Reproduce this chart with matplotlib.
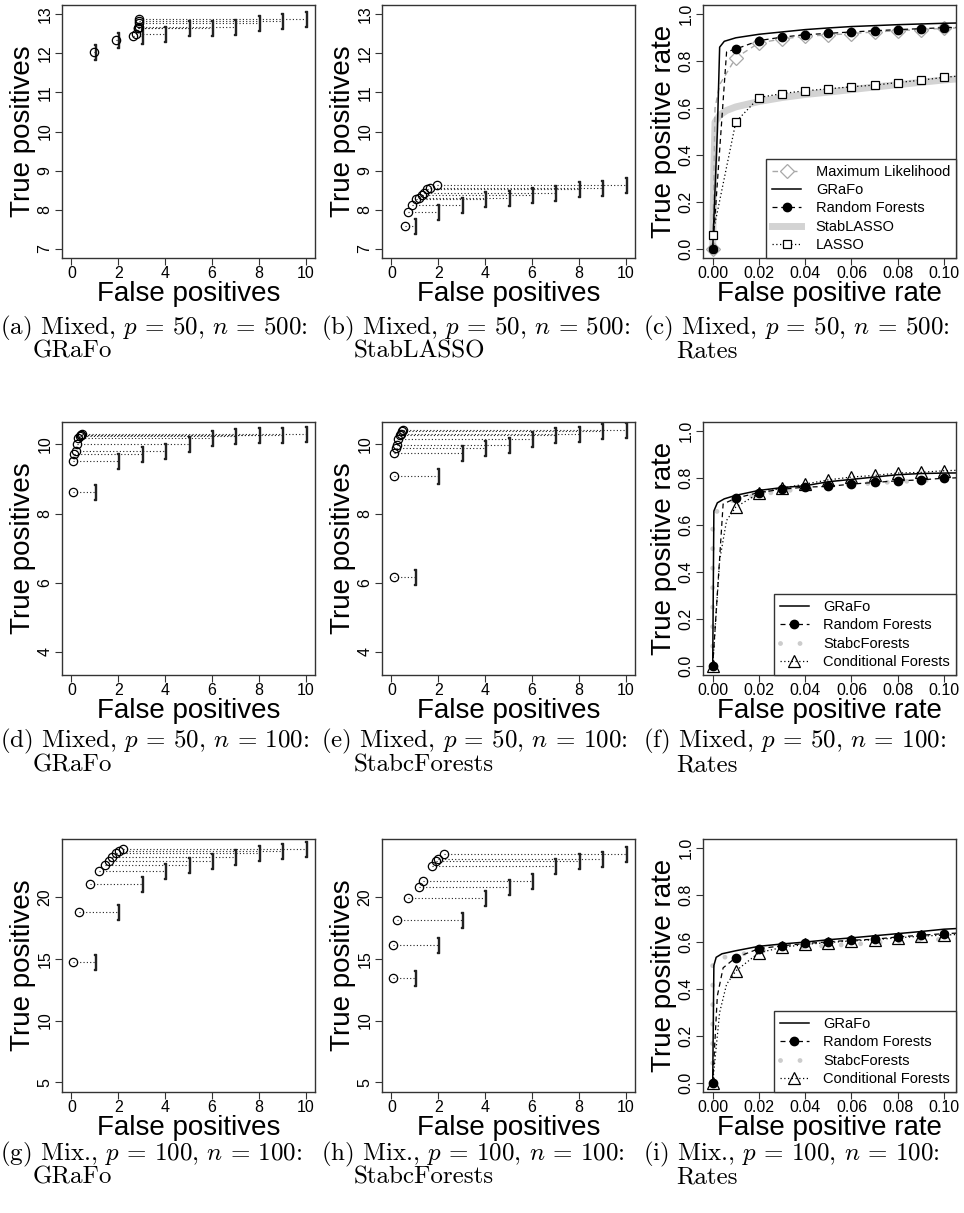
import numpy as np
import matplotlib.pyplot as plt
from matplotlib.ticker import FormatStrFormatter

plt.rcParams['font.family'] = ['Liberation Sans', 'DejaVu Sans']
plt.rcParams['mathtext.fontset'] = 'cm'

# error-control bound on false positives (x position of the "]" marks)
bounds = np.arange(1, 11)

# (a) Mixed p=50 n=500, GRaFo
a_fp = [0.98, 1.92, 2.65, 2.75, 2.83, 2.85, 2.87, 2.9, 2.9, 2.9]
a_tp = [12.03, 12.35, 12.44, 12.51, 12.64, 12.65, 12.68, 12.79, 12.84, 12.88]
# (b) Mixed p=50 n=500, StabLASSO
b_fp = [0.6, 0.7, 0.9, 1.05, 1.2, 1.3, 1.4, 1.5, 1.65, 1.95]
b_tp = [7.57, 7.93, 8.12, 8.28, 8.29, 8.37, 8.42, 8.52, 8.56, 8.63]
# (d) Mixed p=50 n=100, GRaFo
d_fp = [0.05, 0.05, 0.12, 0.18, 0.22, 0.3, 0.35, 0.4, 0.42, 0.45]
d_tp = [8.63, 9.52, 9.72, 9.81, 10.0, 10.2, 10.25, 10.27, 10.28, 10.3]
# (e) Mixed p=50 n=100, StabcForests
e_fp = [0.1, 0.1, 0.13, 0.2, 0.25, 0.3, 0.35, 0.4, 0.45, 0.5]
e_tp = [6.17, 9.09, 9.74, 9.91, 9.98, 10.17, 10.28, 10.31, 10.38, 10.42]
# (g) Mix. p=100 n=100, GRaFo
g_fp = [0.08, 0.33, 0.78, 1.16, 1.42, 1.59, 1.74, 1.89, 2.03, 2.22]
g_tp = [14.75, 18.8, 21.05, 22.1, 22.6, 22.95, 23.27, 23.6, 23.75, 23.94]
# (h) Mix. p=100 n=100, StabcForests
h_fp = [0.07, 0.08, 0.25, 0.71, 1.2, 1.35, 1.73, 1.9, 2.0, 2.25]
h_tp = [13.49, 16.1, 18.18, 19.95, 20.86, 21.3, 22.5, 22.95, 23.13, 23.5]

# (c) rates, Mixed p=50 n=500
c_ml_x = [0, 0.001, 0.003, 0.01, 0.02, 0.03, 0.04, 0.05, 0.06, 0.07, 0.08, 0.09, 0.1, 0.11]
c_ml_y = [0, 0.6, 0.7, 0.815, 0.878, 0.895, 0.907, 0.912, 0.918, 0.925, 0.93, 0.935, 0.94, 0.944]
c_gr_x = [0, 0.002, 0.003, 0.005, 0.01, 0.02, 0.03, 0.04, 0.05, 0.06, 0.07, 0.08, 0.09, 0.1, 0.11]
c_gr_y = [0, 0.5, 0.86, 0.885, 0.9, 0.915, 0.925, 0.935, 0.942, 0.948, 0.952, 0.956, 0.959, 0.962, 0.964]
c_rf_x = [0, 0.006, 0.01, 0.02, 0.03, 0.04, 0.05, 0.06, 0.07, 0.08, 0.09, 0.1, 0.11]
c_rf_y = [0, 0.84, 0.852, 0.888, 0.903, 0.913, 0.919, 0.925, 0.93, 0.935, 0.939, 0.943, 0.946]
c_sl_x = [0, 0.0005, 0.001, 0.003, 0.006, 0.01, 0.02, 0.03, 0.04, 0.05, 0.06, 0.07, 0.08, 0.09, 0.1, 0.11]
c_sl_y = [0, 0.35, 0.54, 0.57, 0.59, 0.605, 0.628, 0.645, 0.658, 0.668, 0.679, 0.69, 0.7, 0.71, 0.72, 0.728]
c_la_x = [0, 0.01, 0.02, 0.03, 0.04, 0.05, 0.06, 0.07, 0.08, 0.09, 0.1, 0.11]
c_la_y = [0.06, 0.541, 0.645, 0.662, 0.674, 0.682, 0.691, 0.698, 0.709, 0.719, 0.731, 0.74]

# (f) rates, Mixed p=50 n=100
f_gr_x = [0, 0.0005, 0.002, 0.005, 0.01, 0.02, 0.03, 0.04, 0.05, 0.06, 0.07, 0.08, 0.09, 0.1, 0.11]
f_gr_y = [0, 0.66, 0.695, 0.712, 0.727, 0.748, 0.76, 0.768, 0.785, 0.795, 0.805, 0.815, 0.82, 0.822, 0.823]
f_rf_x = [0, 0.0045, 0.01, 0.02, 0.03, 0.04, 0.05, 0.06, 0.07, 0.08, 0.09, 0.1, 0.11]
f_rf_y = [0, 0.69, 0.715, 0.739, 0.753, 0.762, 0.765, 0.775, 0.782, 0.789, 0.793, 0.8, 0.803]
f_sc_x = [0, 0, 0.005, 0.01, 0.02, 0.03, 0.04, 0.05, 0.06, 0.07, 0.08, 0.09, 0.1, 0.11]
f_sc_y = [0, 0.64, 0.69, 0.71, 0.73, 0.745, 0.755, 0.765, 0.772, 0.78, 0.785, 0.79, 0.795, 0.8]
f_cf_x = [0, 0.003, 0.006, 0.01, 0.02, 0.03, 0.04, 0.05, 0.06, 0.07, 0.08, 0.09, 0.1, 0.11]
f_cf_y = [0, 0.45, 0.62, 0.677, 0.736, 0.758, 0.775, 0.793, 0.805, 0.812, 0.822, 0.825, 0.832, 0.835]

# (i) rates, Mix. p=100 n=100
i_gr_x = [0, 0.0005, 0.0015, 0.004, 0.01, 0.02, 0.03, 0.04, 0.05, 0.06, 0.07, 0.08, 0.09, 0.1, 0.11]
i_gr_y = [0, 0.5, 0.535, 0.55, 0.563, 0.582, 0.592, 0.6, 0.61, 0.618, 0.627, 0.636, 0.645, 0.655, 0.66]
i_rf_x = [0, 0.002, 0.0045, 0.01, 0.02, 0.03, 0.04, 0.05, 0.06, 0.07, 0.08, 0.09, 0.1, 0.11]
i_rf_y = [0, 0.37, 0.49, 0.534, 0.572, 0.584, 0.594, 0.601, 0.608, 0.612, 0.622, 0.629, 0.636, 0.64]
i_sc_x = [0, 0, 0.005, 0.01, 0.02, 0.03, 0.04, 0.05, 0.06, 0.07, 0.08, 0.09, 0.1, 0.11]
i_sc_y = [0, 0.53, 0.535, 0.545, 0.56, 0.572, 0.58, 0.585, 0.59, 0.597, 0.603, 0.608, 0.612, 0.616]
i_cf_x = [0, 0.003, 0.006, 0.01, 0.02, 0.03, 0.04, 0.05, 0.06, 0.07, 0.08, 0.09, 0.1, 0.11]
i_cf_y = [0, 0.3, 0.42, 0.477, 0.555, 0.577, 0.59, 0.598, 0.605, 0.61, 0.618, 0.625, 0.63, 0.634]

captions = [
    [r"(a) Mixed, $p$ = 50, $n$ = 500:", "GRaFo"],
    [r"(b) Mixed, $p$ = 50, $n$ = 500:", "StabLASSO"],
    [r"(c) Mixed, $p$ = 50, $n$ = 500:", "Rates"],
    [r"(d) Mixed, $p$ = 50, $n$ = 100:", "GRaFo"],
    [r"(e) Mixed, $p$ = 50, $n$ = 100:", "StabcForests"],
    [r"(f) Mixed, $p$ = 50, $n$ = 100:", "Rates"],
    [r"(g) Mix., $p$ = 100, $n$ = 100:", "GRaFo"],
    [r"(h) Mix., $p$ = 100, $n$ = 100:", "StabcForests"],
    [r"(i) Mix., $p$ = 100, $n$ = 100:", "Rates"],
]

W, H = 964, 1213
fig = plt.figure(figsize=(W / 100, H / 100), dpi=100)

col_left = [62, 382, 703]
row_bottom = [258, 675, 1092]
ax_w, ax_h = 253, 253


def make_axes(r, c):
    ax = fig.add_axes([col_left[c] / W, (H - row_bottom[r]) / H, ax_w / W, ax_h / H])
    for s in ax.spines.values():
        s.set_linewidth(1.0)
        s.set_color('#333333')
    ax.tick_params(length=5, width=0.8, labelsize=11.5, color='#333333')
    ax.tick_params(axis='x', pad=0.5)
    ax.tick_params(axis='y', pad=2, labelrotation=90)
    return ax


def fix_ylabels(ax):
    for lab in ax.get_yticklabels():
        lab.set_va('center')


def bound_panel(ax, fp, tp, ylim, yticks):
    for k, x, y in zip(bounds, fp, tp):
        ax.plot([x, k], [y, y], ls=(0, (1, 2)), color='#222222', lw=0.8)
    ax.plot(bounds, tp, ls='none', marker='$]$', ms=11, color='#222222')
    ax.plot(fp, tp, ls='none', marker='o', ms=6, mfc='none', mec='black', mew=0.9)
    ax.set_xlim(-0.4, 10.4)
    ax.set_ylim(*ylim)
    ax.set_xticks(np.arange(0, 11, 2))
    ax.set_yticks(yticks)
    ax.set_xlabel('False positives', fontsize=20, labelpad=0)
    ax.set_ylabel('True positives', fontsize=20, labelpad=1)
    fix_ylabels(ax)


def grid_mask(x):
    x = np.asarray(x) * 100
    return list(np.isclose(x, np.round(x)) & (x <= 10.001))


def rate_axes(ax):
    ax.set_xlim(-0.0042, 0.1052)
    ax.set_ylim(-0.04, 1.04)
    ax.set_xticks(np.arange(0, 0.101, 0.02))
    ax.set_yticks(np.arange(0, 1.01, 0.2))
    ax.xaxis.set_major_formatter(FormatStrFormatter('%.2f'))
    ax.yaxis.set_major_formatter(FormatStrFormatter('%.1f'))
    ax.set_xlabel('False positive rate', fontsize=20, labelpad=0)
    ax.set_ylabel('True positive rate', fontsize=20, labelpad=1)
    fix_ylabels(ax)


def add_legend(ax, names):
    h, l = ax.get_legend_handles_labels()
    order = [l.index(n) for n in names]
    ax.legend([h[o] for o in order], [l[o] for o in order], loc='lower right',
              borderaxespad=0, fontsize=10.5, handlelength=2.0, handletextpad=1.0,
              labelspacing=0.3, borderpad=0.4, fancybox=False, framealpha=1,
              edgecolor='#333333')


def forest_panel(ax, gr, rf, sc, cf):
    ax.plot(sc[0], sc[1], color='#cccccc', lw=3.5, ls=(0, (0.01, 4)),
            dash_capstyle='round', label='StabcForests', zorder=1)
    ax.plot(gr[0], gr[1], color='black', lw=1.1, label='GRaFo', zorder=2)
    ax.plot(cf[0], cf[1], color='black', lw=0.9, ls=(0, (1, 2)), marker='^', ms=8,
            mfc='none', mec='black', mew=0.9, markevery=grid_mask(cf[0]),
            label='Conditional Forests', zorder=3)
    ax.plot(rf[0], rf[1], color='black', lw=0.9, ls=(0, (4, 3)), marker='o', ms=6,
            markevery=grid_mask(rf[0]), label='Random Forests', zorder=4)
    rate_axes(ax)
    add_legend(ax, ['GRaFo', 'Random Forests', 'StabcForests', 'Conditional Forests'])


# row 1
ax = make_axes(0, 0)
bound_panel(ax, a_fp, a_tp, (6.76, 13.24), np.arange(7, 14))
ax = make_axes(0, 1)
bound_panel(ax, b_fp, b_tp, (6.76, 13.24), np.arange(7, 14))

ax = make_axes(0, 2)
ax.plot(c_sl_x, c_sl_y, color='#d3d3d3', lw=5, label='StabLASSO', zorder=1)
ax.plot(c_ml_x, c_ml_y, color='#a8a8a8', lw=1, ls=(0, (4, 3)), marker='D', ms=7,
        mfc='white', mec='#a8a8a8', mew=0.9, markevery=grid_mask(c_ml_x),
        label='Maximum Likelihood', zorder=2)
ax.plot(c_gr_x, c_gr_y, color='black', lw=1.1, label='GRaFo', zorder=3)
ax.plot(c_rf_x, c_rf_y, color='black', lw=0.9, ls=(0, (4, 3)), marker='o', ms=6,
        markevery=grid_mask(c_rf_x), label='Random Forests', zorder=4)
ax.plot(c_la_x, c_la_y, color='black', lw=0.9, ls=(0, (1, 2)), marker='s', ms=6,
        mfc='white', mec='black', mew=0.9, markevery=grid_mask(c_la_x),
        label='LASSO', zorder=5)
rate_axes(ax)
add_legend(ax, ['Maximum Likelihood', 'GRaFo', 'Random Forests', 'StabLASSO', 'LASSO'])

# row 2
ax = make_axes(1, 0)
bound_panel(ax, d_fp, d_tp, (3.33, 10.65), [4, 6, 8, 10])
ax = make_axes(1, 1)
bound_panel(ax, e_fp, e_tp, (3.33, 10.65), [4, 6, 8, 10])
ax = make_axes(1, 2)
forest_panel(ax, (f_gr_x, f_gr_y), (f_rf_x, f_rf_y), (f_sc_x, f_sc_y), (f_cf_x, f_cf_y))

# row 3
ax = make_axes(2, 0)
bound_panel(ax, g_fp, g_tp, (4.2, 24.73), [5, 10, 15, 20])
ax = make_axes(2, 1)
bound_panel(ax, h_fp, h_tp, (4.2, 24.73), [5, 10, 15, 20])
ax = make_axes(2, 2)
forest_panel(ax, (i_gr_x, i_gr_y), (i_rf_x, i_rf_y), (i_sc_x, i_sc_y), (i_cf_x, i_cf_y))

# sub-captions
cap_x = [0, 321, 643]
cap_y = [334, 747, 1160]
for idx, (line1, line2) in enumerate(captions):
    r, c = divmod(idx, 3)
    fig.text(cap_x[c] / W, 1 - cap_y[r] / H, line1, fontsize=18,
             family='cmr10', va='baseline', ha='left')
    fig.text((cap_x[c] + 33) / W, 1 - (cap_y[r] + 24) / H, line2, fontsize=18,
             family='cmr10', va='baseline', ha='left')

fig.savefig('out.png', dpi=100)
